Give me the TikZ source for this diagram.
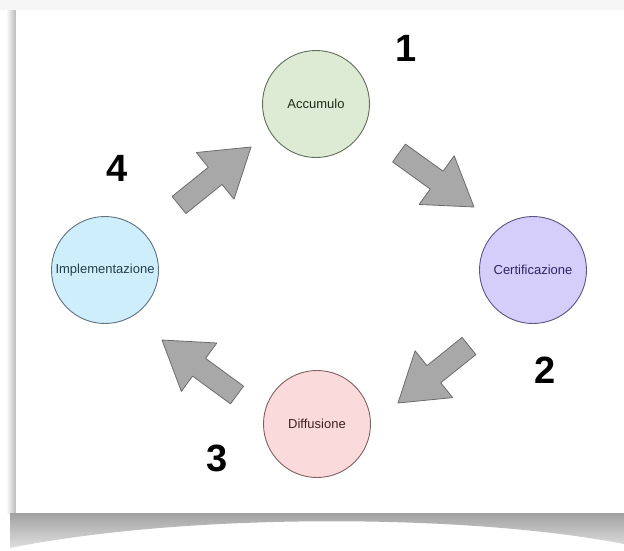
\documentclass[tikz,border=0pt]{standalone}
\usepackage{fontspec}
\setmainfont{Liberation Sans}
\usetikzlibrary{calc}
\definecolor{accfill}{HTML}{DDEBD5}
\definecolor{accline}{HTML}{626C5C}
\definecolor{acctext}{HTML}{1F2A18}
\definecolor{cerfill}{HTML}{D6CEFA}
\definecolor{cerline}{HTML}{5E5482}
\definecolor{certext}{HTML}{2E2560}
\definecolor{diffill}{HTML}{FADADA}
\definecolor{difline}{HTML}{806060}
\definecolor{diftext}{HTML}{3E2222}
\definecolor{impfill}{HTML}{CFEEFC}
\definecolor{impline}{HTML}{5E7280}
\definecolor{imptext}{HTML}{243E4E}
\definecolor{arrfill}{HTML}{A8A8A8}
\definecolor{arrline}{HTML}{6C6C6C}
\tikzset{
  phase/.style={circle, minimum size=107pt, inner sep=0pt, line width=0.9pt,
    font=\fontsize{13}{15}\selectfont},
  numlabel/.style={font=\fontsize{38}{38}\selectfont\bfseries, inner sep=0pt},
  blockstyle/.style={fill=arrfill, draw=arrline, line width=0.8pt, line join=round}
}
\newcommand\blockarrow[2]{%
  \path ($(#2)!46pt!(#1)$) coordinate (hb);
  \draw[blockstyle] ($(#1)!11pt!90:(#2)$) -- ($(hb)!11pt!90:(#2)$) -- ($(hb)!30pt!90:(#2)$)
    -- (#2) -- ($(hb)!30pt!-90:(#2)$) -- ($(hb)!11pt!-90:(#2)$) -- ($(#1)!11pt!-90:(#2)$) -- cycle;}
\begin{document}
\begin{tikzpicture}[x=1pt,y=-1pt]
\useasboundingbox (0,0) rectangle (624,550);
% page / card
\fill[white] (0,0) rectangle (624,550);
\fill[gray!7] (0,0) rectangle (624,10);
\shade[left color=white, right color=gray!55] (6,10) rectangle (16,513);
\shade[top color=gray!75, bottom color=gray!25]
  (10,513) -- (624,513) -- (624,544) .. controls (470,514) and (190,512) .. (10,548) -- cycle;
\fill[white] (16,10) rectangle (624,513);
% phases
\node[phase, fill=accfill, draw=accline, text=acctext] (acc) at (316,104) {Accumulo};
\node[phase, fill=cerfill, draw=cerline, text=certext] (cer) at (533,270) {Certificazione};
\node[phase, fill=diffill, draw=difline, text=diftext] (dif) at (317,424) {Diffusione};
\node[phase, fill=impfill, draw=impline, text=imptext] (imp) at (105,270) {Implementazione};
% numbers
\node[numlabel] (n1) at (406,48) {1};
\node[numlabel] (n2) at (545,370) {2};
\node[numlabel] (n3) at (217,458) {3};
\node[numlabel] (n4) at (117,168) {4};
% block arrows
\coordinate (t1) at (179,205); \coordinate (p1) at (251,147);
\coordinate (t2) at (399,153); \coordinate (p2) at (474,207);
\coordinate (t3) at (469,346); \coordinate (p3) at (398,403);
\coordinate (t4) at (237,395); \coordinate (p4) at (162,340);
\blockarrow{t1}{p1}
\blockarrow{t2}{p2}
\blockarrow{t3}{p3}
\blockarrow{t4}{p4}
\end{tikzpicture}
\end{document}
